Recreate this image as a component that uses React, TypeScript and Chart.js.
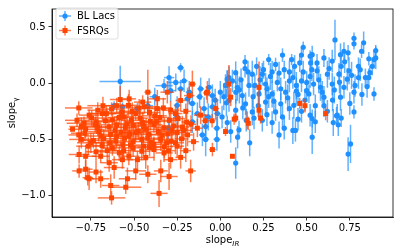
import React, { useEffect, useRef } from "react";
import { Chart, registerables } from "chart.js";
Chart.register(...registerables);

const X_TICKS = [-0.75, -0.5, -0.25, 0, 0.25, 0.5, 0.75];
const Y_TICKS = [-1.0, -0.5, 0.0, 0.5];
const X_MIN = -0.975;
const X_MAX = 1.0;
const Y_MIN = -1.19;
const Y_MAX = 0.66;
const SERIES_NAMES = ["BL Lacs", "FSRQs"];

// [slope_IR, slope_gamma, err_IR, err_gamma]
const BL_LACS: number[][] = [
  [0.664, 0.385, 0.01, 0.18], [0.774, 0.4, 0.01, 0.05], [0.774, 0.35, 0.01, 0.05], [0.83, 0.36, 0.01, 0.1],
  [0.9, 0.29, 0.01, 0.05], [0.9, 0.225, 0.01, 0.1], [0.89, 0.21, 0.01, 0.08], [0.86, 0.217, 0.01, 0.06],
  [0.818, 0.284, 0.01, 0.06], [0.74, 0.27, 0.01, 0.07], [0.716, 0.284, 0.01, 0.08], [0.696, 0.254, 0.01, 0.1],
  [0.866, 0.094, 0.01, 0.06], [0.86, 0.05, 0.01, 0.08], [0.89, -0.095, 0.01, 0.06], [0.774, -0.08, 0.01, 0.1],
  [0.774, -0.255, 0.01, 0.06], [0.677, -0.284, 0.01, 0.1], [0.532, 0.254, 0.01, 0.08], [0.523, 0.18, 0.01, 0.1],
  [0.6, 0.225, 0.01, 0.08], [0.648, 0.197, 0.01, 0.1], [0.8, 0.05, 0.01, 0.1], [0.84, 0.05, 0.01, 0.08],
  [0.745, 0.11, 0.01, 0.12], [0.687, 0.08, 0.01, 0.1], [0.62, 0.08, 0.01, 0.12], [0.56, 0.11, 0.01, 0.08],
  [0.54, -0.008, 0.01, 0.1], [0.6, -0.124, 0.01, 0.1], [0.696, -0.124, 0.01, 0.12], [0.716, -0.037, 0.01, 0.1],
  [0.735, 0.036, 0.01, 0.1], [0.648, -0.008, 0.01, 0.1], [0.58, -0.037, 0.01, 0.12], [0.513, -0.095, 0.01, 0.08],
  [0.52, 0.06, 0.01, 0.1], [0.532, -0.314, 0.01, 0.08], [0.55, -0.343, 0.01, 0.1], [0.532, -0.48, 0.01, 0.15],
  [0.654, -0.35, 0.01, 0.12], [0.673, -0.29, 0.01, 0.08], [0.683, -0.37, 0.01, 0.1], [0.7, -0.31, 0.01, 0.08],
  [0.754, -0.54, 0.01, 0.17], [0.74, -0.63, 0.01, 0.15], [0.48, 0.32, 0.01, 0.05], [0.47, 0.25, 0.01, 0.06],
  [0.52, 0.24, 0.01, 0.05], [0.413, 0.21, 0.01, 0.05], [0.46, 0.18, 0.01, 0.08], [0.32, 0.167, 0.01, 0.06],
  [0.28, 0.21, 0.01, 0.05], [0.143, 0.19, 0.01, 0.06], [0.143, 0.13, 0.01, 0.08], [0.37, 0.12, 0.01, 0.08],
  [0.243, 0.08, 0.01, 0.1], [0.185, 0.08, 0.01, 0.12], [0.089, 0.094, 0.01, 0.1], [0.07, 0.02, 0.01, 0.1],
  [0.04, -0.008, 0.01, 0.12], [0.03, -0.02, 0.01, 0.1], [0.098, -0.037, 0.01, 0.12], [0.166, -0.02, 0.01, 0.1],
  [0.262, -0.008, 0.01, 0.1], [0.33, 0.007, 0.01, 0.08], [0.4, 0.02, 0.01, 0.1], [0.44, -0.02, 0.01, 0.12],
  [0.5, 0.007, 0.01, 0.1], [0.5, -0.066, 0.01, 0.1], [0.378, -0.08, 0.01, 0.1], [0.3, -0.095, 0.01, 0.12],
  [0.224, -0.095, 0.01, 0.1], [0.127, -0.11, 0.01, 0.12], [0.05, -0.153, 0.01, 0.1], [0.035, -0.174, 0.01, 0.12],
  [0.146, -0.183, 0.01, 0.1], [0.262, -0.168, 0.01, 0.12], [0.35, -0.183, 0.01, 0.1], [0.426, -0.197, 0.01, 0.12],
  [0.089, -0.24, 0.01, 0.1], [0.185, -0.255, 0.01, 0.12], [0.32, -0.255, 0.01, 0.08], [0.4, -0.226, 0.01, 0.1],
  [0.52, -0.284, 0.01, 0.1], [0.04, -0.35, 0.01, 0.06], [0.06, -0.43, 0.01, 0.1], [0.108, -0.415, 0.01, 0.08],
  [0.17, -0.53, 0.01, 0.12], [0.089, -0.71, 0.01, 0.14], [0.34, -0.46, 0.01, 0.12], [0.37, -0.4, 0.01, 0.1],
  [0.42, -0.42, 0.01, 0.12], [0.435, -0.42, 0.01, 0.1], [0.195, -0.31, 0.01, 0.1], [0.243, -0.33, 0.01, 0.1],
  [-0.23, 0.138, 0.02, 0.04], [-0.297, 0.05, 0.03, 0.1], [-0.258, 0.007, 0.05, 0.08], [-0.21, 0.022, 0.02, 0.1],
  [-0.326, -0.022, 0.05, 0.06], [-0.288, -0.066, 0.03, 0.1], [-0.23, -0.05, 0.02, 0.08], [-0.18, -0.08, 0.02, 0.1],
  [-0.114, -0.05, 0.02, 0.1], [-0.065, -0.037, 0.02, 0.08], [-0.046, -0.11, 0.02, 0.1], [0.04, 0.036, 0.01, 0.08],
  [-0.58, 0.016, 0.12, 0.14], [-0.615, -0.2, 0.02, 0.04], [-0.567, -0.21, 0.02, 0.04], [-0.48, -0.226, 0.02, 0.05],
  [-0.085, -0.5, 0.02, 0.15], [-0.104, -0.46, 0.02, 0.1], [-0.162, -0.343, 0.02, 0.1], [-0.085, -0.386, 0.02, 0.1],
  [-0.162, -0.18, 0.02, 0.1], [-0.094, -0.226, 0.02, 0.1], [-0.046, -0.21, 0.02, 0.1], [-0.017, -0.27, 0.02, 0.12],
  [-0.133, -0.27, 0.02, 0.1], [-0.25, -0.197, 0.02, 0.08], [-0.19, -0.139, 0.02, 0.1],
  [0.0, -0.08, 0.01, 0.1], [0.01, -0.3, 0.01, 0.1], [-0.02, -0.4, 0.02, 0.1], [0.6, -0.2, 0.01, 0.1],
  [0.65, -0.15, 0.01, 0.1], [0.45, -0.1, 0.01, 0.1], [0.35, -0.05, 0.01, 0.1], [0.28, -0.12, 0.01, 0.1],
  [0.2, -0.02, 0.01, 0.1], [0.12, 0.03, 0.01, 0.1], [0.25, 0.12, 0.01, 0.08], [0.4, 0.1, 0.01, 0.1],
  [0.55, -0.2, 0.01, 0.1], [0.75, -0.18, 0.01, 0.1], [0.82, -0.1, 0.01, 0.1], [0.8, 0.15, 0.01, 0.08],
  [0.7, 0.15, 0.01, 0.1], [0.48, 0.1, 0.01, 0.1], [0.36, 0.25, 0.01, 0.06], [0.22, -0.2, 0.01, 0.1],
  [0.15, -0.33, 0.01, 0.1], [0.3, -0.35, 0.01, 0.1], [0.45, -0.32, 0.01, 0.1], [0.1, -0.48, 0.01, 0.1],
  [-0.02, -0.5, 0.02, 0.1], [-0.3, -0.4, 0.02, 0.1], [-0.25, -0.3, 0.02, 0.1], [-0.38, -0.12, 0.03, 0.08],
  [-0.42, -0.2, 0.03, 0.08],
  [0.05, 0.05, 0.01, 0.1], [0.11, -0.06, 0.01, 0.12], [0.16, 0.1, 0.01, 0.1], [0.19, -0.12, 0.01, 0.1],
  [0.23, 0.03, 0.01, 0.12], [0.27, -0.05, 0.01, 0.1], [0.29, 0.06, 0.01, 0.12], [0.31, -0.16, 0.01, 0.1],
  [0.34, 0.09, 0.01, 0.1], [0.39, -0.13, 0.01, 0.12], [0.42, 0.05, 0.01, 0.1], [0.44, -0.07, 0.01, 0.12],
  [0.47, 0.02, 0.01, 0.1], [0.49, -0.15, 0.01, 0.1], [0.53, 0.12, 0.01, 0.1], [0.57, 0.03, 0.01, 0.12],
  [0.59, -0.08, 0.01, 0.1], [0.63, 0.13, 0.01, 0.1], [0.66, -0.06, 0.01, 0.12], [0.69, 0.01, 0.01, 0.1],
  [0.72, 0.19, 0.01, 0.1], [0.76, 0.07, 0.01, 0.12], [0.78, -0.02, 0.01, 0.1], [0.81, 0.12, 0.01, 0.1],
  [0.85, -0.03, 0.01, 0.1], [0.88, 0.15, 0.01, 0.08], [0.62, -0.25, 0.01, 0.1], [0.47, -0.25, 0.01, 0.1],
  [0.27, -0.28, 0.01, 0.1], [0.13, -0.22, 0.01, 0.1], [0.02, -0.12, 0.01, 0.12], [-0.03, -0.15, 0.02, 0.1],
  [-0.07, -0.3, 0.02, 0.12], [-0.12, -0.12, 0.02, 0.1], [0.56, 0.18, 0.01, 0.08], [0.43, 0.15, 0.01, 0.1],
  [0.3, 0.1, 0.01, 0.1], [0.21, 0.15, 0.01, 0.08], [0.09, -0.08, 0.01, 0.1], [0.36, -0.3, 0.01, 0.1],
];

const FSRQS: number[][] = [
  [-0.58, -0.145, 0.06, 0.12], [-0.532, -0.197, 0.05, 0.1], [-0.683, -0.27, 0.08, 0.06], [-0.76, -0.284, 0.06, 0.05],
  [-0.856, -0.41, 0.0, 0.0], [-0.79, -0.357, 0.1, 0.06], [-0.72, -0.343, 0.08, 0.08], [-0.625, -0.328, 0.06, 0.06],
  [-0.557, -0.3, 0.06, 0.08], [-0.49, -0.27, 0.05, 0.06], [-0.528, -0.139, 0.04, 0.08], [-0.45, -0.168, 0.05, 0.06],
  [-0.42, -0.08, 0.02, 0.2], [-0.365, -0.139, 0.05, 0.08], [-0.307, -0.08, 0.04, 0.1], [-0.162, -0.008, 0.02, 0.12],
  [-0.075, -0.08, 0.02, 0.1], [-0.18, -0.11, 0.03, 0.08], [-0.23, -0.153, 0.03, 0.1], [-0.027, -0.226, 0.02, 0.1],
  [-0.365, -0.226, 0.06, 0.08], [-0.288, -0.24, 0.05, 0.08], [-0.44, -0.21, 0.06, 0.06], [-0.114, -0.284, 0.04, 0.08],
  [-0.818, -0.634, 0.06, 0.08], [-0.818, -0.78, 0.04, 0.06], [-0.78, -0.765, 0.04, 0.08], [-0.768, -0.84, 0.03, 0.07],
  [-0.76, -0.85, 0.03, 0.1], [-0.72, -0.79, 0.04, 0.1], [-0.693, -0.85, 0.05, 0.08], [-0.615, -0.75, 0.06, 0.1],
  [-0.635, -0.91, 0.05, 0.1], [-0.548, -0.925, 0.09, 0.06], [-0.63, -1.02, 0.08, 0.06], [-0.538, -0.85, 0.05, 0.1],
  [-0.49, -0.78, 0.06, 0.08], [-0.78, -0.65, 0.06, 0.1], [-0.644, -0.707, 0.05, 0.08], [-0.567, -0.68, 0.06, 0.08],
  [-0.693, -0.65, 0.05, 0.06], [-0.53, -0.65, 0.06, 0.08], [-0.48, -0.68, 0.06, 0.08], [-0.345, -0.78, 0.04, 0.1],
  [-0.297, -0.83, 0.05, 0.12], [-0.355, -0.98, 0.05, 0.12], [-0.42, -0.81, 0.05, 0.08], [-0.172, -0.78, 0.03, 0.1],
  [-0.432, -0.66, 0.05, 0.1], [-0.288, -0.68, 0.04, 0.08], [-0.23, -0.66, 0.03, 0.1], [-0.326, -0.62, 0.05, 0.08],
  [-0.046, -0.59, 0.02, 0.06], [0.03, -0.43, 0.01, 0.04], [-0.133, -0.4, 0.03, 0.08], [-0.25, -0.56, 0.04, 0.1],
  [-0.384, -0.59, 0.05, 0.1], [0.05, -0.008, 0.01, 0.17], [0.06, -0.124, 0.01, 0.08], [0.089, -0.31, 0.01, 0.04],
  [0.224, -0.037, 0.01, 0.23], [0.224, -0.24, 0.01, 0.06], [0.46, -0.18, 0.01, 0.05], [0.49, -0.2, 0.01, 0.06],
  [0.156, -0.33, 0.01, 0.08], [0.07, -0.65, 0.01, 0.0], [0.08, -0.32, 0.01, 0.05], [0.162, -0.357, 0.01, 0.06],
  [0.233, -0.31, 0.01, 0.05], [0.61, -0.27, 0.01, 0.06], [-0.08, -0.087, 0.02, 0.06], [-0.048, -0.334, 0.02, 0.06],
  [-0.087, -0.334, 0.02, 0.06],
  [-0.71, -0.24, 0.06, 0.07], [-0.63, -0.23, 0.07, 0.06], [-0.51, -0.25, 0.05, 0.08], [-0.41, -0.26, 0.06, 0.07],
  [-0.33, -0.22, 0.05, 0.09], [-0.26, -0.27, 0.04, 0.08], [-0.2, -0.25, 0.03, 0.07], [-0.83, -0.33, 0.07, 0.06],
  [-0.745, -0.31, 0.08, 0.07], [-0.665, -0.335, 0.06, 0.08], [-0.585, -0.305, 0.07, 0.06], [-0.515, -0.33, 0.06, 0.09],
  [-0.465, -0.31, 0.05, 0.07], [-0.405, -0.34, 0.06, 0.08], [-0.35, -0.305, 0.05, 0.09], [-0.295, -0.33, 0.05, 0.07],
  [-0.245, -0.315, 0.04, 0.1], [-0.195, -0.345, 0.03, 0.08], [-0.805, -0.385, 0.07, 0.08], [-0.725, -0.37, 0.06, 0.07],
  [-0.645, -0.39, 0.08, 0.09], [-0.6, -0.37, 0.06, 0.08], [-0.55, -0.395, 0.07, 0.07], [-0.505, -0.375, 0.05, 0.09],
  [-0.445, -0.385, 0.06, 0.08], [-0.385, -0.37, 0.05, 0.07], [-0.325, -0.395, 0.06, 0.09], [-0.27, -0.38, 0.04, 0.08],
  [-0.22, -0.39, 0.04, 0.1], [-0.17, -0.365, 0.03, 0.08], [-0.785, -0.445, 0.08, 0.07], [-0.705, -0.43, 0.06, 0.09],
  [-0.635, -0.455, 0.07, 0.08], [-0.575, -0.435, 0.06, 0.1], [-0.525, -0.45, 0.07, 0.07], [-0.475, -0.425, 0.05, 0.08],
  [-0.415, -0.455, 0.06, 0.09], [-0.36, -0.43, 0.05, 0.08], [-0.305, -0.45, 0.05, 0.07], [-0.25, -0.44, 0.04, 0.09],
  [-0.19, -0.46, 0.03, 0.1], [-0.805, -0.5, 0.07, 0.08], [-0.735, -0.51, 0.06, 0.07], [-0.675, -0.495, 0.07, 0.09],
  [-0.605, -0.515, 0.06, 0.08], [-0.555, -0.49, 0.07, 0.1], [-0.505, -0.52, 0.06, 0.07], [-0.455, -0.5, 0.05, 0.09],
  [-0.4, -0.525, 0.06, 0.08], [-0.345, -0.5, 0.05, 0.1], [-0.285, -0.515, 0.04, 0.08], [-0.225, -0.495, 0.04, 0.09],
  [-0.155, -0.52, 0.03, 0.08], [-0.765, -0.56, 0.07, 0.08], [-0.685, -0.555, 0.06, 0.09], [-0.625, -0.575, 0.07, 0.07],
  [-0.565, -0.55, 0.06, 0.1], [-0.505, -0.575, 0.05, 0.08], [-0.445, -0.56, 0.06, 0.09], [-0.385, -0.545, 0.05, 0.07],
  [-0.325, -0.565, 0.05, 0.1], [-0.72, -0.61, 0.06, 0.08], [-0.655, -0.6, 0.07, 0.09], [-0.585, -0.62, 0.06, 0.07],
  [-0.455, -0.605, 0.05, 0.08], [-0.3, -0.6, 0.04, 0.09], [-0.2, -0.6, 0.03, 0.1],
  [-0.82, -0.22, 0.08, 0.06], [-0.68, -0.2, 0.09, 0.08], [-0.57, -0.26, 0.1, 0.07], [-0.47, -0.22, 0.08, 0.08],
  [-0.38, -0.29, 0.07, 0.09], [-0.78, -0.41, 0.1, 0.08], [-0.69, -0.47, 0.09, 0.1], [-0.61, -0.42, 0.1, 0.08],
  [-0.54, -0.36, 0.09, 0.09], [-0.43, -0.41, 0.08, 0.1], [-0.34, -0.46, 0.07, 0.08], [-0.28, -0.42, 0.06, 0.1],
  [-0.75, -0.53, 0.08, 0.09], [-0.64, -0.53, 0.09, 0.08], [-0.53, -0.47, 0.08, 0.1], [-0.42, -0.49, 0.08, 0.09],
  [-0.31, -0.53, 0.06, 0.08], [-0.21, -0.42, 0.05, 0.09], [-0.66, -0.27, 0.09, 0.07], [-0.6, -0.47, 0.08, 0.1],
  [-0.49, -0.44, 0.09, 0.08], [-0.37, -0.34, 0.08, 0.08], [-0.45, -0.35, 0.09, 0.09], [-0.71, -0.39, 0.09, 0.08],
  [-0.56, -0.6, 0.07, 0.09], [-0.41, -0.57, 0.07, 0.08], [-0.82, -0.46, 0.06, 0.07], [-0.6, -0.2, 0.09, 0.07],
  [-0.52, -0.55, 0.08, 0.09], [-0.26, -0.53, 0.05, 0.1],
];

const BLUE = "#1E90FF";
const ORANGE = "#FF4500";
const BLUE_ERR = "rgba(30,144,255,0.7)";
const ORANGE_ERR = "rgba(255,69,0,0.7)";
const FONT = "DejaVu Sans";

const fmt = (v: number, d: number) => (v < 0 ? "\u2212" : "") + Math.abs(v).toFixed(d);

const errorBarPlugin = {
  id: "errorBars",
  beforeDatasetDraw(chart: any, args: any) {
    const ds = chart.data.datasets[args.index];
    const errs: number[][] = ds.errs;
    if (!errs) return;
    const { ctx, chartArea } = chart;
    const xs = chart.scales.x;
    const ys = chart.scales.y;
    ctx.save();
    ctx.beginPath();
    ctx.rect(chartArea.left, chartArea.top, chartArea.right - chartArea.left, chartArea.bottom - chartArea.top);
    ctx.clip();
    ctx.strokeStyle = ds.errColor;
    ctx.lineWidth = 1.5;
    for (const p of errs) {
      const cx = xs.getPixelForValue(p[0]);
      const cy = ys.getPixelForValue(p[1]);
      if (p[2] > 0) {
        ctx.beginPath();
        ctx.moveTo(xs.getPixelForValue(p[0] - p[2]), cy);
        ctx.lineTo(xs.getPixelForValue(p[0] + p[2]), cy);
        ctx.stroke();
      }
      if (p[3] > 0) {
        ctx.beginPath();
        ctx.moveTo(cx, ys.getPixelForValue(p[1] - p[3]));
        ctx.lineTo(cx, ys.getPixelForValue(p[1] + p[3]));
        ctx.stroke();
      }
    }
    ctx.restore();
  },
};

const decorPlugin = {
  id: "decor",
  afterDraw(chart: any) {
    const { ctx, chartArea } = chart;
    ctx.save();
    ctx.strokeStyle = "#000";
    ctx.lineWidth = 0.8;
    ctx.strokeRect(chartArea.left, chartArea.top, chartArea.right - chartArea.left, chartArea.bottom - chartArea.top);

    // legend
    const lx = 56, ly = 8, lw = 62, lh = 31;
    ctx.fillStyle = "rgba(255,255,255,0.8)";
    ctx.strokeStyle = "rgba(204,204,204,0.8)";
    ctx.lineWidth = 0.8;
    ctx.beginPath();
    (ctx as any).roundRect ? ctx.roundRect(lx, ly, lw, lh, 2) : ctx.rect(lx, ly, lw, lh);
    ctx.fill();
    ctx.stroke();
    const items = [
      { name: SERIES_NAMES[0], color: BLUE, err: BLUE_ERR, y: 16, shape: "circle" },
      { name: SERIES_NAMES[1], color: ORANGE, err: ORANGE_ERR, y: 30.5, shape: "rect" },
    ];
    for (const it of items) {
      const mx = 65;
      ctx.strokeStyle = it.err;
      ctx.lineWidth = 1.5;
      ctx.beginPath();
      ctx.moveTo(mx - 6, it.y);
      ctx.lineTo(mx + 6, it.y);
      ctx.moveTo(mx, it.y - 5);
      ctx.lineTo(mx, it.y + 5);
      ctx.stroke();
      ctx.fillStyle = it.color;
      ctx.beginPath();
      if (it.shape === "circle") ctx.arc(mx, it.y, 2.6, 0, Math.PI * 2);
      else ctx.rect(mx - 2.5, it.y - 2.5, 5, 5);
      ctx.fill();
      ctx.fillStyle = "#000";
      ctx.font = `10px "${FONT}"`;
      ctx.textAlign = "left";
      ctx.textBaseline = "middle";
      ctx.fillText(it.name, 77, it.y + 0.5);
    }

    // x axis title: slope_IR
    ctx.fillStyle = "#000";
    ctx.textBaseline = "alphabetic";
    ctx.font = `10px "${FONT}"`;
    const xmid = (chartArea.left + chartArea.right) / 2;
    const w1 = ctx.measureText("slope").width;
    ctx.font = `italic 7px "${FONT}"`;
    const w2 = ctx.measureText("IR").width;
    const sx = xmid - (w1 + w2) / 2;
    ctx.font = `10px "${FONT}"`;
    ctx.textAlign = "left";
    ctx.fillText("slope", sx, 243);
    ctx.font = `italic 7px "${FONT}"`;
    ctx.fillText("IR", sx + w1, 245.5);

    // y axis title: slope_γ
    const ymid = (chartArea.top + chartArea.bottom) / 2;
    ctx.translate(15, ymid);
    ctx.rotate(-Math.PI / 2);
    ctx.font = `10px "${FONT}"`;
    const v1 = ctx.measureText("slope").width;
    ctx.font = `7px "${FONT}"`;
    const v2 = ctx.measureText("\u03B3").width;
    const st = -(v1 + v2) / 2;
    ctx.font = `10px "${FONT}"`;
    ctx.fillText("slope", st, 0);
    ctx.font = `7px "${FONT}"`;
    ctx.fillText("\u03B3", st + v1, 2.5);
    ctx.restore();
  },
};

export default function App() {
  const ref = useRef<HTMLCanvasElement | null>(null);
  useEffect(() => {
    if (!ref.current) return;
    const chart = new Chart(ref.current, {
      type: "scatter",
      data: {
        datasets: [
          {
            label: SERIES_NAMES[0],
            data: BL_LACS.map((p) => ({ x: p[0], y: p[1] })),
            backgroundColor: BLUE,
            borderWidth: 0,
            pointRadius: 2.6,
            pointStyle: "circle",
            order: 2,
            errs: BL_LACS,
            errColor: BLUE_ERR,
          } as any,
          {
            label: SERIES_NAMES[1],
            data: FSRQS.map((p) => ({ x: p[0], y: p[1] })),
            backgroundColor: ORANGE,
            borderWidth: 0,
            pointRadius: 3.5,
            pointStyle: "rect",
            order: 1,
            errs: FSRQS,
            errColor: ORANGE_ERR,
          } as any,
        ],
      },
      options: {
        responsive: false,
        animation: false,
        events: [],
        layout: { padding: { left: 0, right: 6, top: 5, bottom: 0 } },
        plugins: { legend: { display: false }, tooltip: { enabled: false } },
        scales: {
          x: {
            type: "linear",
            min: X_MIN,
            max: X_MAX,
            afterBuildTicks: (s: any) => {
              s.ticks = X_TICKS.map((v) => ({ value: v }));
            },
            afterFit: (s: any) => {
              s.height = 35;
            },
            ticks: {
              callback: (v: any) => fmt(Number(v), 2),
              font: { family: FONT, size: 10 },
              color: "#000",
              padding: 2,
              maxRotation: 0,
              autoSkip: false,
            },
            grid: { drawOnChartArea: false, drawTicks: true, tickLength: 3.5, color: "#000", lineWidth: 0.8 },
            border: { display: true, color: "#000", width: 0.8 },
          },
          y: {
            type: "linear",
            min: Y_MIN,
            max: Y_MAX,
            afterBuildTicks: (s: any) => {
              s.ticks = Y_TICKS.map((v) => ({ value: v }));
            },
            afterFit: (s: any) => {
              s.width = 52;
            },
            ticks: {
              callback: (v: any) => fmt(Number(v), 1),
              font: { family: FONT, size: 10 },
              color: "#000",
              padding: 3,
              autoSkip: false,
            },
            grid: { drawOnChartArea: false, drawTicks: true, tickLength: 3.5, color: "#000", lineWidth: 0.8 },
            border: { display: true, color: "#000", width: 0.8 },
          },
        },
      } as any,
      plugins: [errorBarPlugin, decorPlugin],
    });
    return () => chart.destroy();
  }, []);
  return (
    <div style={{ position: "fixed", left: 0, top: 0, width: 399, height: 252, background: "#fff" }}>
      <canvas ref={ref} width={399} height={252} style={{ display: "block" }} />
    </div>
  );
}
